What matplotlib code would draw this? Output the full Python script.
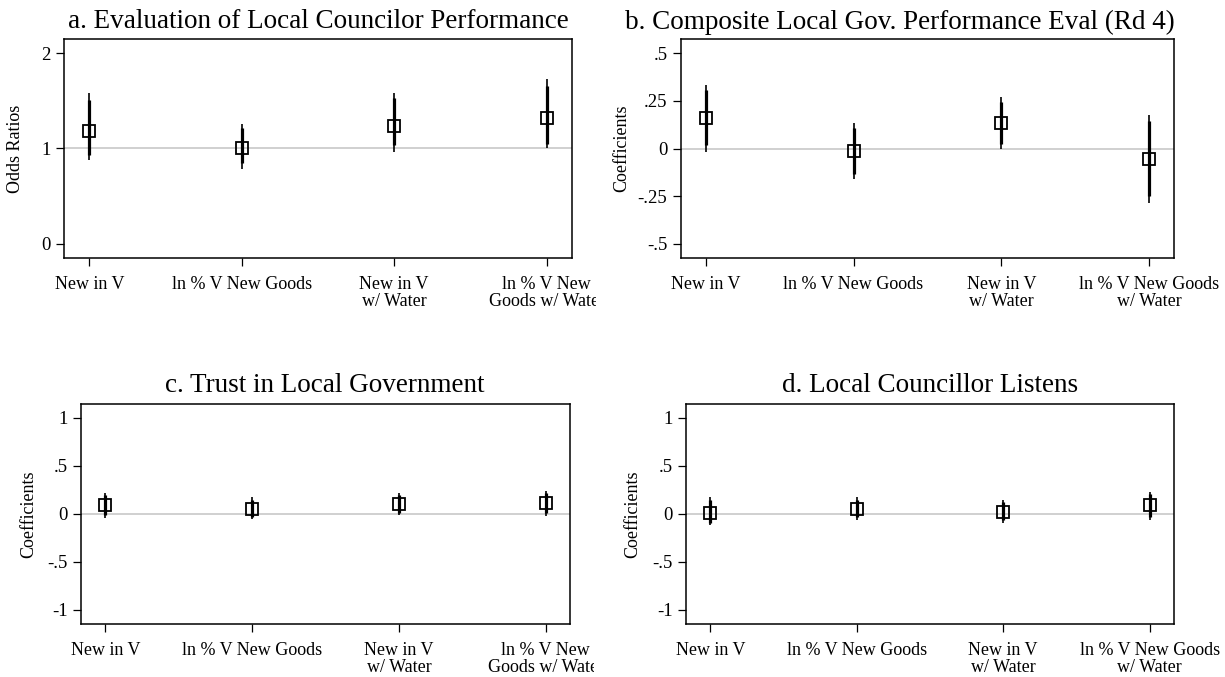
import matplotlib
matplotlib.use("Agg")
import matplotlib.pyplot as plt
from matplotlib.transforms import Bbox

plt.rcParams['font.family'] = ['Liberation Serif', 'DejaVu Serif']

categories = ["New in V", "ln % V New Goods", "New in V\nw/ Water", "ln % V New\nGoods w/ Water"]
categories_b = ["New in V", "ln % V New Goods", "New in V\nw/ Water", "ln % V New Goods\nw/ Water"]

# Panel a: odds ratios
a_est = [1.18, 1.00, 1.24, 1.32]
a_lo90 = [0.93, 0.845, 1.035, 1.047]
a_hi90 = [1.51, 1.21, 1.525, 1.654]
a_lo95 = [0.88, 0.79, 0.967, 1.002]
a_hi95 = [1.584, 1.257, 1.584, 1.728]

# Panel b: coefficients
b_est = [0.16, -0.014, 0.134, -0.054]
b_lo90 = [0.016, -0.136, 0.021, -0.25]
b_hi90 = [0.309, 0.108, 0.244, 0.143]
b_lo95 = [-0.017, -0.159, -0.002, -0.288]
b_hi95 = [0.335, 0.134, 0.27, 0.178]

# Panel c: coefficients
c_est = [0.087, 0.052, 0.105, 0.111]
c_lo90 = [-0.018, -0.035, 0.01, 0.007]
c_hi90 = [0.192, 0.147, 0.192, 0.21]
c_lo95 = [-0.046, -0.06, -0.01, -0.02]
c_hi95 = [0.216, 0.168, 0.216, 0.237]

# Panel d: coefficients
d_est = [0.01, 0.052, 0.017, 0.087]
d_lo90 = [-0.098, -0.035, -0.07, -0.035]
d_hi90 = [0.14, 0.14, 0.122, 0.202]
d_lo95 = [-0.122, -0.063, -0.094, -0.063]
d_hi95 = [0.168, 0.168, 0.147, 0.226]

W, H = 1225, 677
fig = plt.figure(figsize=(W / 100, H / 100), dpi=100)

def px_axes(left, right, top, bottom):
    return fig.add_axes([left / W, 1 - bottom / H, (right - left) / W, (bottom - top) / H])

panels = [
    dict(box=(64, 572, 39, 258), est=a_est, lo90=a_lo90, hi90=a_hi90, lo95=a_lo95, hi95=a_hi95,
         ref=1.0, ylim=(-0.147, 2.147), yticks=[0, 1, 2], yticklabels=["0", "1", "2"],
         ylabel="Odds Ratios", ylabx=16, title="a. Evaluation of Local Councilor Performance",
         titlex=318, titley=22, cats=categories, clip=596),
    dict(box=(681, 1174, 39, 258), est=b_est, lo90=b_lo90, hi90=b_hi90, lo95=b_lo95, hi95=b_hi95,
         ref=0.0, ylim=(-0.574, 0.574), yticks=[-0.5, -0.25, 0, 0.25, 0.5],
         yticklabels=["-.5", "-.25", "0", ".25", ".5"],
         ylabel="Coefficients", ylabx=622, title="b. Composite Local Gov. Performance Eval (Rd 4)",
         titlex=900, titley=22, cats=categories_b, clip=None),
    dict(box=(81, 570, 404, 624), est=c_est, lo90=c_lo90, hi90=c_hi90, lo95=c_lo95, hi95=c_hi95,
         ref=0.0, ylim=(-1.15, 1.142), yticks=[-1, -0.5, 0, 0.5, 1],
         yticklabels=["-1", "-.5", "0", ".5", "1"],
         ylabel="Coefficients", ylabx=29, title="c. Trust in Local Government",
         titlex=325, titley=386, cats=categories, clip=594),
    dict(box=(686, 1174, 404, 624), est=d_est, lo90=d_lo90, hi90=d_hi90, lo95=d_lo95, hi95=d_hi95,
         ref=0.0, ylim=(-1.15, 1.142), yticks=[-1, -0.5, 0, 0.5, 1],
         yticklabels=["-1", "-.5", "0", ".5", "1"],
         ylabel="Coefficients", ylabx=633, title="d. Local Councillor Listens",
         titlex=930, titley=386, cats=categories_b, clip=None),
]

xpos = [1, 2, 3, 4]
clip_jobs = []
for p in panels:
    l, r, t, b = p['box']
    ax = px_axes(l, r, t, b)
    ax.axhline(p['ref'], color='#c8c8c8', lw=1.2, zorder=1)
    ax.vlines(xpos, p['lo95'], p['hi95'], color='black', lw=1.2, zorder=2)
    ax.vlines(xpos, p['lo90'], p['hi90'], color='black', lw=2.3, zorder=3)
    ax.plot(xpos, p['est'], linestyle='none', marker='s', markersize=8.0,
            markerfacecolor='none', markeredgecolor='black', markeredgewidth=1.3, zorder=4)
    ax.set_xlim(0.834, 4.166)
    ax.set_ylim(*p['ylim'])
    ax.set_yticks(p['yticks'])
    ax.set_yticklabels(p['yticklabels'], fontsize=13.5)
    ax.set_xticks(xpos)
    ax.set_xticklabels(p['cats'], fontsize=13, linespacing=1.0)
    ax.tick_params(axis='y', length=5.8, width=0.9, pad=4)
    ax.tick_params(axis='x', length=6, width=0.9, pad=7)
    for s in ax.spines.values():
        s.set_linewidth(1.1)
    y_center = 1 - ((t + b) / 2) / H
    fig.text(p['ylabx'] / W, y_center, p['ylabel'], rotation=90, ha='center', va='center', fontsize=13)
    fig.text(p['titlex'] / W, 1 - p['titley'] / H, p['title'], ha='center', va='center', fontsize=19.5)
    if p['clip'] is not None:
        clip_jobs.append((ax, p['clip']))

fig.canvas.draw()
for ax, cx in clip_jobs:
    bb = Bbox([[0, 0], [cx, H]])
    for lab in ax.get_xticklabels():
        lab.set_clip_box(bb)
        lab.set_clip_on(True)

fig.savefig("out.png", dpi=100)
